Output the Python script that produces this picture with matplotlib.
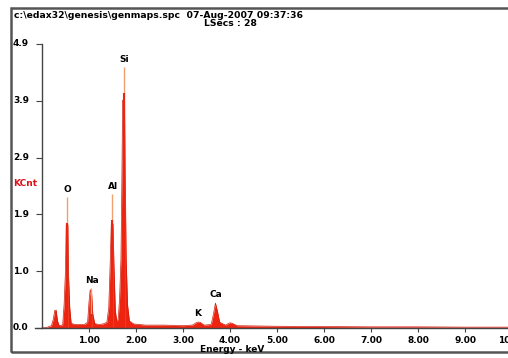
import matplotlib
matplotlib.use('Agg')
import matplotlib.pyplot as plt
from matplotlib.patches import Rectangle

# widmo EDS (keV, KCnt)
energia = [0.00, 0.10, 0.20, 0.24, 0.27, 0.30, 0.33, 0.36, 0.40, 0.44, 0.47, 0.50, 0.515, 0.55,
           0.565, 0.59, 0.62, 0.70, 0.80, 0.90, 0.97, 1.00, 1.025, 1.055, 1.08, 1.12, 1.20, 1.30,
           1.38, 1.42, 1.45, 1.475, 1.51, 1.53, 1.56, 1.59, 1.62, 1.65, 1.68, 1.70, 1.715, 1.755,
           1.77, 1.79, 1.82, 1.86, 1.95, 2.20, 2.60, 3.00, 3.20, 3.30, 3.36, 3.45, 3.60, 3.65,
           3.69, 3.73, 3.78, 3.90, 4.00, 4.05, 4.15, 5.00, 6.00, 7.00, 8.00, 9.00, 10.00]
zliczenia = [0.00, 0.01, 0.04, 0.15, 0.30, 0.31, 0.12, 0.05, 0.04, 0.06, 0.40, 1.00, 1.78, 1.78,
             0.90, 0.35, 0.08, 0.06, 0.06, 0.06, 0.10, 0.45, 0.66, 0.60, 0.25, 0.08, 0.06, 0.07,
             0.10, 0.35, 1.10, 1.81, 1.80, 1.10, 0.30, 0.12, 0.15, 0.50, 1.20, 2.60, 3.93, 3.93,
             2.60, 1.20, 0.40, 0.12, 0.07, 0.05, 0.05, 0.04, 0.05, 0.10, 0.10, 0.05, 0.06, 0.25,
             0.43, 0.30, 0.10, 0.05, 0.09, 0.08, 0.04, 0.03, 0.025, 0.02, 0.02, 0.015, 0.015]

# wąskie szczyty (jasne linie nad pikami)
szczyt_e = [0.53, 1.04, 1.49, 1.735]
szczyt_h = [2.26, 0.69, 2.31, 4.50]

# etykiety pierwiastków
pierwiastki = ['O', 'Na', 'Al', 'Si', 'K', 'Ca']
pierw_e = [0.53, 1.07, 1.51, 1.74, 3.32, 3.70]
pierw_h = [2.32, 0.75, 2.37, 4.56, 0.18, 0.50]

xticks = [1, 2, 3, 4, 5, 6, 7, 8, 9]
xlabels = ['1.00', '2.00', '3.00', '4.00', '5.00', '6.00', '7.00', '8.00', '9.00']
yticks = [0.0, 0.98, 1.96, 2.94, 3.92, 4.9]
ylabels = ['0.0', '1.0', '1.9', '2.9', '3.9', '4.9']

W, H = 508, 358
fig = plt.figure(figsize=(W / 100, H / 100), dpi=100)
fig.patch.set_facecolor('white')

# ramka
fig.patches.append(Rectangle((11 / W, 1 - 352 / H), 510 / W, 344 / H, transform=fig.transFigure,
                             fill=False, edgecolor='#555555', linewidth=1.8))

# osie: x 0 keV -> 42 px, 47 px/keV; y 0 -> 328 px, 4.9 -> 44 px
x0, x1 = 35, 508
ax = fig.add_axes([x0 / W, 1 - 328 / H, (x1 - x0) / W, (328 - 44) / H])
ax.set_xlim((x0 - 42) / 47, (x1 - 42) / 47)
ax.set_ylim(0, 4.9)
ax.patch.set_alpha(0)

ax.fill_between(energia, zliczenia, color='#ec2410', linewidth=0)
ax.plot(energia, zliczenia, color='#d01c0c', linewidth=0.5)
ax.vlines(szczyt_e, 0, szczyt_h, color='#f0a070', linewidth=1.0)
ax.vlines(szczyt_e, 0, [h - 0.45 for h in szczyt_h], color='#ec2410', linewidth=1.5)

for name, e, h in zip(pierwiastki, pierw_e, pierw_h):
    ax.text(e, h, name, ha='center', va='bottom', fontsize=6.5, fontweight='bold')

for s in ['top', 'right']:
    ax.spines[s].set_visible(False)
ax.spines['left'].set_position(('data', 0))
ax.spines['left'].set_bounds(0, 4.9)
ax.spines['left'].set_color('#444444')
ax.spines['bottom'].set_color('#444444')
ax.spines['left'].set_linewidth(1.0)
ax.spines['bottom'].set_linewidth(1.0)

ax.set_xticks(xticks)
ax.set_xticklabels(xlabels, fontsize=6.5, fontweight='bold')
ax.tick_params(axis='x', direction='out', length=3, width=0.8, pad=3, colors='#444444', labelcolor='black')
ax.set_yticks(yticks)
ax.set_yticklabels([])
ax.tick_params(axis='y', direction='out', length=4, width=0.8, colors='#444444')
ax.text(10, -0.21, '10.00', ha='center', va='center', fontsize=6.5, fontweight='bold', clip_on=False)

for t, lab in zip(yticks, ylabels):
    fig.text(13 / W, 1 - (328 - t * 57.96) / H, lab, ha='left', va='center', fontsize=6.5, fontweight='bold')

fig.text(13 / W, 1 - 183 / H, 'KCnt', ha='left', va='center', fontsize=6.5, fontweight='bold', color='#e0101a')
fig.text(232 / W, 1 - 349 / H, 'Energy - keV', ha='center', va='center', fontsize=6.5, fontweight='bold')
fig.text(14 / W, 1 - 15 / H, 'c:\\edax32\\genesis\\genmaps.spc  07-Aug-2007 09:37:36', ha='left', va='center',
         fontsize=6.7, fontweight='bold')
fig.text(257 / W, 1 - 24 / H, 'LSecs : 28', ha='right', va='center', fontsize=6.7, fontweight='bold')

fig.savefig('out.png', dpi=100)
